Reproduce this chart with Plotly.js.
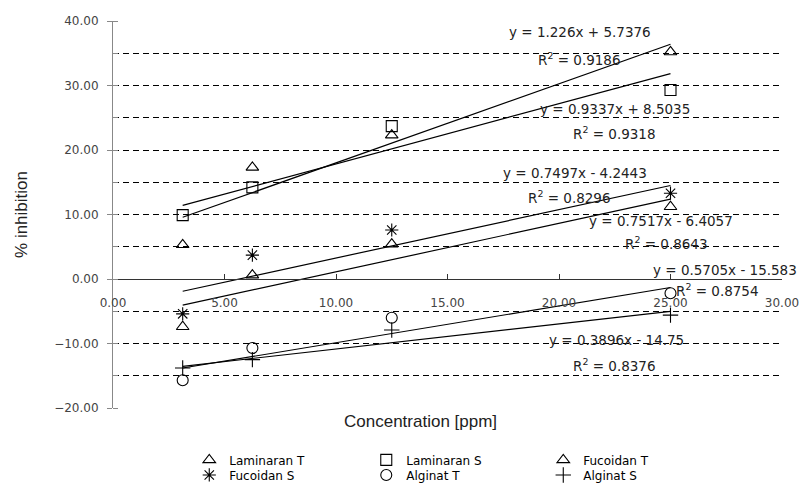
<!DOCTYPE html>
<html>
<head>
<meta charset="utf-8">
<script src="https://cdn.plot.ly/plotly-3.0.1.min.js"></script>
<style>html,body{margin:0;padding:0;background:#fff;}#chart{width:807px;height:484px;}</style>
</head>
<body>
<div id="chart"></div>
<script>
// Concentration (ppm)
var concentration = [3.125, 6.25, 12.5, 25];

// % inhibition per series
var laminaranT = [5.3, 17.3, 22.3, 35.2];
var laminaranS = [9.9, 14.2, 23.7, 29.3];
var fucoidanT  = [-7.4, 0.6, 5.4, 11.2];
var fucoidanS  = [-5.4, 3.7, 7.6, 13.3];
var alginatT   = [-15.7, -10.7, -6.0, -2.2];
var alginatS   = [-13.8, -12.5, -7.9, -5.6];

var seriesNames = ["Laminaran T", "Laminaran S", "Fucoidan T", "Fucoidan S", "Alginat T", "Alginat S"];

// Linear trendlines as printed on the chart
var slopes     = [1.226, 0.9337, 0.7517, 0.7497, 0.5705, 0.3896];
var intercepts = [5.7376, 8.5035, -6.4057, -4.2443, -15.583, -14.75];
var eqLabels = ["y = 1.226x + 5.7376", "y = 0.9337x + 8.5035", "y = 0.7517x - 6.4057",
                "y = 0.7497x - 4.2443", "y = 0.5705x - 15.583", "y = 0.3896x - 14.75"];
var r2Labels = ["0.9186", "0.9318", "0.8643", "0.8296", "0.8754", "0.8376"];

// x tick values / y tick values
var xTicks = [0, 5, 10, 15, 20, 25, 30];
var yTicks = [-20, -10, 0, 10, 20, 30, 40];

var seriesValues = [laminaranT, laminaranS, fucoidanT, fucoidanS, alginatT, alginatS];
var symbols = ["triangle-up-open", "square-open", "triangle-up-open", "asterisk-open", "circle-open", "cross-thin-open"];
var legendRow = ["legend", "legend", "legend", "legend2", "legend2", "legend2"];

var traces = [];
// trendlines
for (var i = 0; i < seriesValues.length; i++) {
  var x0 = concentration[0], x1 = concentration[concentration.length - 1];
  traces.push({
    x: [x0, x1],
    y: [slopes[i] * x0 + intercepts[i], slopes[i] * x1 + intercepts[i]],
    mode: "lines", type: "scatter", showlegend: false, hoverinfo: "skip",
    line: {color: "#000", width: 1.2}
  });
}
// markers
for (var j = 0; j < seriesValues.length; j++) {
  traces.push({
    x: concentration, y: seriesValues[j], name: seriesNames[j], legend: legendRow[j],
    mode: "markers", type: "scatter",
    marker: {symbol: symbols[j], size: 11, color: "#000", line: {color: "#000", width: 1.1}}
  });
}

// annotation placements (data coordinates)
var eqPos = [[20.94, 38.3], [22.51, 26.36], [24.57, 8.99], [20.72, 16.43], [27.44, 1.40], [22.60, -9.46]];
var r2Pos = [[20.94, 34.1], [22.47, 22.64], [24.84, 5.58], [20.49, 12.71], [27.09, -1.7], [22.47, -13.33]];
var annFont = {family: "DejaVu Sans", size: 13.5, color: "#222"};
var annotations = [];
for (var k = 0; k < eqLabels.length; k++) {
  annotations.push({x: eqPos[k][0], y: eqPos[k][1], xref: "x", yref: "y", text: eqLabels[k],
    showarrow: false, font: annFont, xanchor: "center", yanchor: "middle"});
  annotations.push({x: r2Pos[k][0], y: r2Pos[k][1], xref: "x", yref: "y", text: "R<sup>2</sup> = " + r2Labels[k],
    showarrow: false, font: annFont, xanchor: "center", yanchor: "middle"});
}
annotations.push({x: 0.46, y: -0.005, xref: "paper", yref: "paper", yanchor: "top", xanchor: "center",
  text: "Concentration [ppm]", showarrow: false,
  font: {family: "Liberation Sans", size: 17, color: "#222"}});

var legendFont = {family: "DejaVu Sans", size: 12, color: "#000"};
var layout = {
  width: 807, height: 484,
  margin: {l: 113, r: 25, t: 21, b: 76, autoexpand: false},
  paper_bgcolor: "#fff", plot_bgcolor: "#fff",
  showlegend: true,
  xaxis: {
    range: [0, 30], tickvals: xTicks, tickformat: ".2f",
    anchor: "free", position: 20 / 60,
    showline: true, linecolor: "#333", linewidth: 1,
    ticks: "inside", ticklen: 5, tickcolor: "#333",
    showgrid: false, zeroline: false,
    ticklabelstandoff: 13,
    tickfont: {family: "DejaVu Sans", size: 12, color: "#444"}
  },
  yaxis: {
    range: [-20, 40], tickvals: yTicks, tickformat: ".2f",
    showline: true, linecolor: "#888", linewidth: 1,
    ticks: "outside", ticklen: 5, tickcolor: "#888",
    showgrid: false, zeroline: false,
    ticklabelstandoff: 6,
    tickfont: {family: "DejaVu Sans", size: 12, color: "#444"},
    minor: {dtick: 5, tick0: 0, ticks: "inside", ticklen: 5, tickcolor: "#888",
            showgrid: true, gridcolor: "#000", griddash: "6px,4px", gridwidth: 1},
    title: {text: "% inhibition", standoff: 22, font: {family: "Liberation Sans", size: 17, color: "#222"}}
  },
  legend: {
    orientation: "h", x: 0.114, y: -0.134, xanchor: "left", yanchor: "middle",
    entrywidth: 132, entrywidthmode: "pixels", itemwidth: 30,
    font: legendFont, bgcolor: "rgba(0,0,0,0)"
  },
  legend2: {
    orientation: "h", x: 0.114, y: -0.173, xanchor: "left", yanchor: "middle",
    entrywidth: 132, entrywidthmode: "pixels", itemwidth: 30,
    font: legendFont, bgcolor: "rgba(0,0,0,0)"
  },
  annotations: annotations
};

Plotly.newPlot("chart", traces, layout, {displayModeBar: false, staticPlot: true});
</script>
</body>
</html>
